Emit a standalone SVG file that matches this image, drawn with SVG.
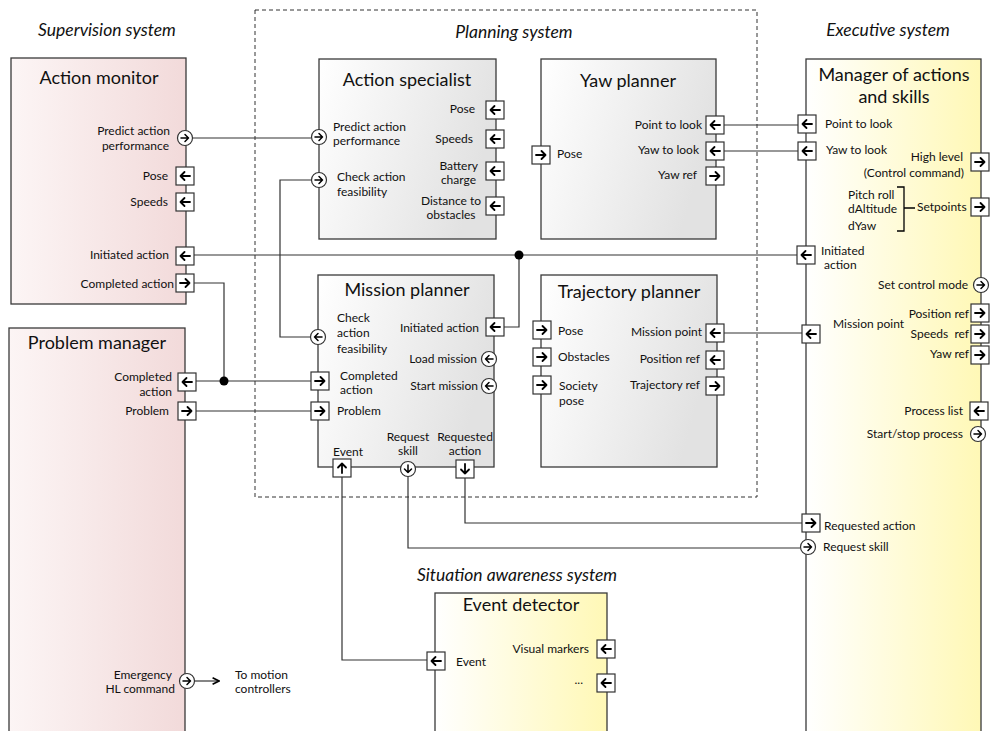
<svg xmlns="http://www.w3.org/2000/svg" width="990" height="731" viewBox="0 0 990 731">
<style>
text{font-family:Lato,"Open Sans","Liberation Sans",sans-serif;fill:#111;}
.sys{font-size:17.5px;font-style:italic;text-anchor:middle;}
.ttl{font-size:18px;text-anchor:middle;}
.lb{font-size:12px;}
.e{text-anchor:end;}
.m{text-anchor:middle;}
.box{stroke:#3a3a3a;stroke-width:1.3;}
.port{fill:#fff;stroke:#333;stroke-width:1.2;}
.arr{fill:none;stroke:#000;stroke-width:1.8;stroke-linecap:round;stroke-linejoin:round;}
.con{fill:none;stroke:#333;stroke-width:1.2;}
</style>
<defs>
<linearGradient id="gPink" x1="0" y1="0" x2="1" y2="0"><stop offset="0" stop-color="#fcf5f5"/><stop offset="1" stop-color="#f2dada"/></linearGradient>
<linearGradient id="gGrey" x1="0" y1="0" x2="1" y2="0.3"><stop offset="0" stop-color="#ffffff"/><stop offset="1" stop-color="#e2e2e2"/></linearGradient>
<linearGradient id="gYel" x1="0" y1="0" x2="1" y2="0"><stop offset="0" stop-color="#ffffff"/><stop offset="1" stop-color="#fff8b6"/></linearGradient>
<g id="sqR"><rect x="-9" y="-9" width="18" height="18" class="port"/><path class="arr" d="M-5,0H4.5M0.5,-4L4.5,0L0.5,4"/></g>
<g id="sqL"><rect x="-9" y="-9" width="18" height="18" class="port"/><path class="arr" d="M5,0H-4.5M-0.5,-4L-4.5,0L-0.5,4"/></g>
<g id="sqU"><rect x="-9" y="-9" width="18" height="18" class="port"/><path class="arr" d="M0,5V-4.5M-4,-0.5L0,-4.5L4,-0.5"/></g>
<g id="sqD"><rect x="-9" y="-9" width="18" height="18" class="port"/><path class="arr" d="M0,-5V4.5M-4,0.5L0,4.5L4,0.5"/></g>
<g id="cR"><circle r="7.5" class="port"/><path class="arr" d="M-4,0H3.5M0,-3.5L3.5,0L0,3.5" style="stroke-width:1.5"/></g>
<g id="cL"><circle r="7.5" class="port"/><path class="arr" d="M4,0H-3.5M0,-3.5L-3.5,0L0,3.5" style="stroke-width:1.5"/></g>
<g id="cD"><circle r="7.5" class="port"/><path class="arr" d="M0,-4V3.5M-3.5,0L0,3.5L3.5,0" style="stroke-width:1.5"/></g>
<marker id="ah" viewBox="0 0 10 10" refX="9" refY="5" markerWidth="8" markerHeight="8" markerUnits="userSpaceOnUse" orient="auto"><path d="M1,1L9,5L1,9" fill="none" stroke="#000" stroke-width="2"/></marker>
</defs>
<rect width="990" height="731" fill="#fff"/>

<g id="system-titles">
<text class="sys" x="107" y="36">Supervision system</text>
<text class="sys" x="514" y="38">Planning system</text>
<text class="sys" x="888" y="36">Executive system</text>
<text class="sys" x="517" y="581">Situation awareness system</text>
</g>

<g id="planning-system">
<rect x="255" y="10" width="502" height="487" fill="none" stroke="#333" stroke-width="1" stroke-dasharray="4,3"/>
</g>

<g id="connectors">
<path class="con" d="M193,138H311"/>
<path class="con" d="M194,255H798"/>
<path class="con" d="M504,327H519V255"/>
<circle cx="519" cy="255" r="4.5" fill="#000"/>
<path class="con" d="M311,180H280V337H310"/>
<path class="con" d="M194,283H224V381"/>
<path class="con" d="M196,381H311"/>
<circle cx="224" cy="381" r="4.5" fill="#000"/>
<path class="con" d="M196,411H311"/>
<path class="con" d="M724,125H798"/>
<path class="con" d="M724,151H798"/>
<path class="con" d="M724,333H802"/>
<path class="con" d="M342,477V660H427"/>
<path class="con" d="M408,477V548H800"/>
<path class="con" d="M465,478V523H802"/>
<path class="con" d="M195,681H219" stroke="#000" stroke-width="1.5" marker-end="url(#ah)"/>
</g>

<g id="action-monitor">
<rect class="box" x="11" y="58" width="175" height="246" fill="url(#gPink)"/>
<text class="ttl" x="99" y="84">Action monitor</text>
<use href="#cR" x="185" y="138"/>
<use href="#sqL" x="185" y="176"/>
<use href="#sqL" x="185" y="202"/>
<use href="#sqL" x="185" y="256"/>
<use href="#sqR" x="185" y="283"/>
<text class="lb e" x="170" y="135">Predict action</text>
<text class="lb e" x="169" y="150">performance</text>
<text class="lb e" x="168" y="180">Pose</text>
<text class="lb e" x="168" y="206">Speeds</text>
<text class="lb e" x="169" y="259">Initiated action</text>
<text class="lb e" x="174" y="288">Completed action</text>
</g>

<g id="problem-manager">
<rect class="box" x="9" y="328" width="176" height="420" fill="url(#gPink)"/>
<text class="ttl" x="97" y="349">Problem manager</text>
<use href="#sqL" x="187" y="382"/>
<use href="#sqR" x="187" y="411"/>
<use href="#cR" x="187" y="681"/>
<text class="lb e" x="172" y="381">Completed</text>
<text class="lb e" x="172" y="396">action</text>
<text class="lb e" x="169" y="415">Problem</text>
<text class="lb e" x="172" y="679">Emergency</text>
<text class="lb e" x="175" y="693">HL command</text>
<text class="lb" x="235" y="679">To motion</text>
<text class="lb" x="235" y="693">controllers</text>
</g>

<g id="action-specialist">
<rect class="box" x="319" y="59" width="177" height="180" fill="url(#gGrey)"/>
<text class="ttl" x="407" y="86">Action specialist</text>
<use href="#cR" x="319" y="137"/>
<use href="#cR" x="319" y="180"/>
<use href="#sqL" x="495" y="110"/>
<use href="#sqL" x="495" y="139"/>
<use href="#sqL" x="495" y="171"/>
<use href="#sqL" x="495" y="206"/>
<text class="lb" x="333" y="131">Predict action</text>
<text class="lb" x="333" y="145">performance</text>
<text class="lb" x="337" y="181">Check action</text>
<text class="lb" x="337" y="196">feasibility</text>
<text class="lb e" x="475" y="113">Pose</text>
<text class="lb e" x="473" y="143">Speeds</text>
<text class="lb e" x="478" y="170">Battery</text>
<text class="lb e" x="476" y="184">charge</text>
<text class="lb m" x="451" y="205">Distance to</text>
<text class="lb m" x="451" y="219">obstacles</text>
</g>

<g id="yaw-planner">
<rect class="box" x="541" y="59" width="175" height="180" fill="url(#gGrey)"/>
<text class="ttl" x="628" y="87">Yaw planner</text>
<use href="#sqR" x="541" y="155"/>
<use href="#sqL" x="715" y="125"/>
<use href="#sqL" x="715" y="151"/>
<use href="#sqR" x="715" y="176"/>
<text class="lb" x="557" y="158">Pose</text>
<text class="lb e" x="702" y="129">Point to look</text>
<text class="lb e" x="699" y="154">Yaw to look</text>
<text class="lb e" x="697" y="179">Yaw ref</text>
</g>

<g id="mission-planner">
<rect class="box" x="318" y="275" width="176" height="192" fill="url(#gGrey)"/>
<text class="ttl" x="407" y="296">Mission planner</text>
<use href="#cL" x="318" y="337"/>
<use href="#sqR" x="320" y="381"/>
<use href="#sqR" x="320" y="411"/>
<use href="#sqL" x="495" y="327"/>
<use href="#cL" x="489" y="359"/>
<use href="#cL" x="489" y="386"/>
<use href="#sqU" x="342" y="468"/>
<use href="#cD" x="408" y="469"/>
<use href="#sqD" x="465" y="469"/>
<text class="lb" x="337" y="322">Check</text>
<text class="lb" x="337" y="337">action</text>
<text class="lb" x="337" y="353">feasibility</text>
<text class="lb e" x="479" y="332">Initiated action</text>
<text class="lb e" x="477" y="363">Load mission</text>
<text class="lb e" x="478" y="390">Start mission</text>
<text class="lb" x="340" y="380">Completed</text>
<text class="lb" x="340" y="394">action</text>
<text class="lb" x="337" y="415">Problem</text>
<text class="lb m" x="348" y="456">Event</text>
<text class="lb m" x="408" y="441">Request</text>
<text class="lb m" x="408" y="455">skill</text>
<text class="lb m" x="465" y="441">Requested</text>
<text class="lb m" x="465" y="455">action</text>
</g>

<g id="trajectory-planner">
<rect class="box" x="541" y="275" width="176" height="192" fill="url(#gGrey)"/>
<text class="ttl" x="629" y="298">Trajectory planner</text>
<use href="#sqR" x="542" y="330"/>
<use href="#sqR" x="542" y="357"/>
<use href="#sqR" x="542" y="385"/>
<use href="#sqL" x="715" y="333"/>
<use href="#sqL" x="715" y="360"/>
<use href="#sqR" x="715" y="386"/>
<text class="lb" x="558" y="335">Pose</text>
<text class="lb" x="558" y="361">Obstacles</text>
<text class="lb" x="559" y="390">Society</text>
<text class="lb" x="559" y="405">pose</text>
<text class="lb e" x="702" y="336">Mission point</text>
<text class="lb e" x="700" y="363">Position ref</text>
<text class="lb e" x="700" y="389">Trajectory ref</text>
</g>

<g id="manager-of-actions-and-skills">
<rect class="box" x="806" y="59" width="175" height="690" fill="url(#gYel)"/>
<text class="ttl" x="894" y="81">Manager of actions</text>
<text class="ttl" x="894" y="103">and skills</text>
<use href="#sqL" x="807" y="124"/>
<use href="#sqL" x="807" y="151"/>
<use href="#sqL" x="806" y="255"/>
<use href="#sqR" x="980" y="162"/>
<use href="#sqR" x="980" y="207"/>
<use href="#cR" x="981" y="285"/>
<use href="#sqL" x="811" y="334"/>
<use href="#sqR" x="980" y="313"/>
<use href="#sqR" x="980" y="334"/>
<use href="#sqR" x="980" y="355"/>
<use href="#sqL" x="979" y="411"/>
<use href="#cR" x="978" y="434"/>
<use href="#sqR" x="811" y="523"/>
<use href="#cR" x="808" y="547"/>
<text class="lb" x="825" y="128">Point to look</text>
<text class="lb" x="826" y="154">Yaw to look</text>
<text class="lb" x="821" y="255">Initiated</text>
<text class="lb" x="824" y="269">action</text>
<text class="lb e" x="963" y="161">High level</text>
<text class="lb e" x="964" y="177">(Control command)</text>
<text class="lb" x="848" y="199">Pitch roll</text>
<text class="lb" x="848" y="213">dAltitude</text>
<text class="lb" x="848" y="230">dYaw</text>
<path d="M897,187H904V231H897M904,208H915" fill="none" stroke="#000" stroke-width="1.3"/>
<text class="lb" x="917" y="211">Setpoints</text>
<text class="lb e" x="968" y="289">Set control mode</text>
<text class="lb" x="833" y="328">Mission point</text>
<text class="lb e" x="969" y="318">Position ref</text>
<text class="lb e" x="969" y="338" xml:space="preserve">Speeds  ref</text>
<text class="lb e" x="969" y="358">Yaw ref</text>
<text class="lb e" x="963" y="415">Process list</text>
<text class="lb e" x="963" y="438">Start/stop process</text>
<text class="lb" x="824" y="530">Requested action</text>
<text class="lb" x="823" y="551">Request skill</text>
</g>

<g id="event-detector">
<rect class="box" x="435" y="593" width="172" height="160" fill="url(#gYel)"/>
<text class="ttl" x="521" y="611">Event detector</text>
<use href="#sqL" x="436" y="661"/>
<use href="#sqL" x="606" y="649"/>
<use href="#sqL" x="606" y="683"/>
<text class="lb" x="456" y="666">Event</text>
<text class="lb e" x="589" y="653">Visual markers</text>
<text class="lb e" x="583" y="684">...</text>
</g>
</svg>
